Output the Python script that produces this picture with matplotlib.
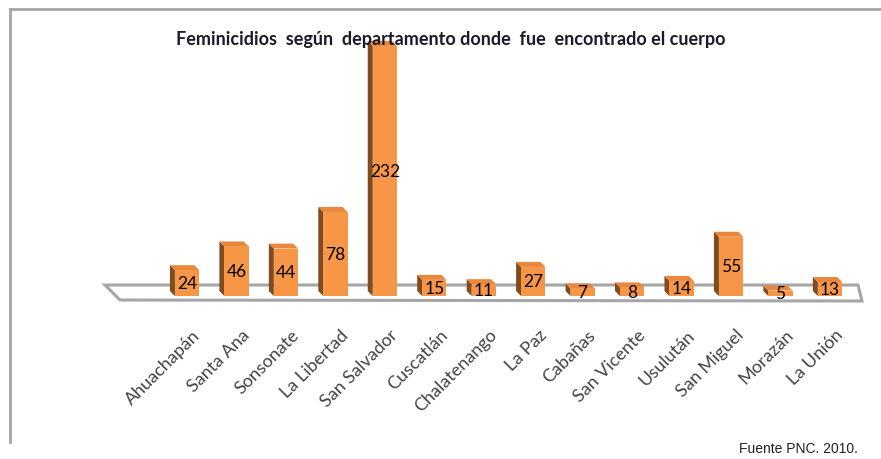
import numpy as np
import matplotlib
matplotlib.use("Agg")
import matplotlib.pyplot as plt
from matplotlib.patches import Polygon
from matplotlib.lines import Line2D

departamentos = ["Ahuachapán", "Santa Ana", "Sonsonate", "La Libertad", "San Salvador",
                 "Cuscatlán", "Chalatenango", "La Paz", "Cabañas", "San Vicente",
                 "Usulután", "San Miguel", "Morazán", "La Unión"]
casos = [24, 46, 44, 78, 232, 15, 11, 27, 7, 8, 14, 55, 5, 13]

titulo = "Feminicidios  según  departamento donde  fue  encontrado el cuerpo"
fuente = "Fuente PNC. 2010."

W, H = 881, 460
fig = plt.figure(figsize=(W / 100, H / 100), dpi=100)

# ejes en pixeles de la figura
ax_l, ax_r, ax_b, ax_t = 100, 870, 330, 20
ax = fig.add_axes([ax_l / W, (H - ax_b) / H, (ax_r - ax_l) / W, (ax_b - ax_t) / H])
xlim = (-1.76, 13.81)
ylim = (-30.6, 257.0)
ax.set_xlim(*xlim)
ax.set_ylim(*ylim)
ax.axis("off")

ppx = (ax_r - ax_l) / (xlim[1] - xlim[0])   # pixeles por unidad x
ppy = (ax_b - ax_t) / (ylim[1] - ylim[0])   # pixeles por unidad y
dx = -5 / ppx
dy = 5 / ppy

# piso
piso = Polygon([(xlim[0] + 5 / ppx, 11 / ppy), (xlim[0] + 20 / ppx, -4 / ppy),
                (xlim[1] - 8 / ppx, -5 / ppy), (xlim[1] - 12 / ppx, 11 / ppy)],
               closed=True, facecolor="white", edgecolor="#a6a6a6", lw=2.2, zorder=1)
ax.add_patch(piso)

x = np.arange(len(casos))
w = 0.49
front = "#f79646"
side = "#7f4b1f"
top = "#e9873d"

ax.bar(x, casos, width=w, color=front, edgecolor="none", zorder=3)
for xi, v in zip(x, casos):
    x0, x1 = xi - w / 2, xi + w / 2
    ax.add_patch(Polygon([(x0, 0), (x0 + dx, dy), (x0 + dx, v + dy), (x0, v)],
                         closed=True, facecolor=side, edgecolor="none", zorder=2))
    ax.add_patch(Polygon([(x0, v), (x0 + dx, v + dy), (x1 + dx, v + dy), (x1, v)],
                         closed=True, facecolor=top, edgecolor="none", zorder=2))
    ax.text(xi, v / 2, str(v), ha="center", va="center", fontsize=12.5,
            family="Lato", color="black", zorder=4)

for xi, nombre in zip(x, departamentos):
    ax.text(xi + 0.1, -28, nombre, rotation=45, rotation_mode="anchor",
            ha="right", va="top", fontsize=13, family="Lato", color="#444444")

# marco
fig.add_artist(Line2D([10 / W, 1], [1 - 10 / H, 1 - 10 / H], color="#a6a6a6", lw=2))
fig.add_artist(Line2D([10 / W, 10 / W], [1 - 10 / H, 1 - 443 / H], color="#a6a6a6", lw=2))

fig.text(451 / W, 1 - 40 / H, titulo, ha="center", va="center", fontsize=13,
         fontweight="bold", family="Lato", color="#1a1a2a")
fig.text(858 / W, 1 - 449 / H, fuente, ha="right", va="center", fontsize=10,
         family="Liberation Sans", color="#222222")

fig.savefig("out.png", dpi=100)
